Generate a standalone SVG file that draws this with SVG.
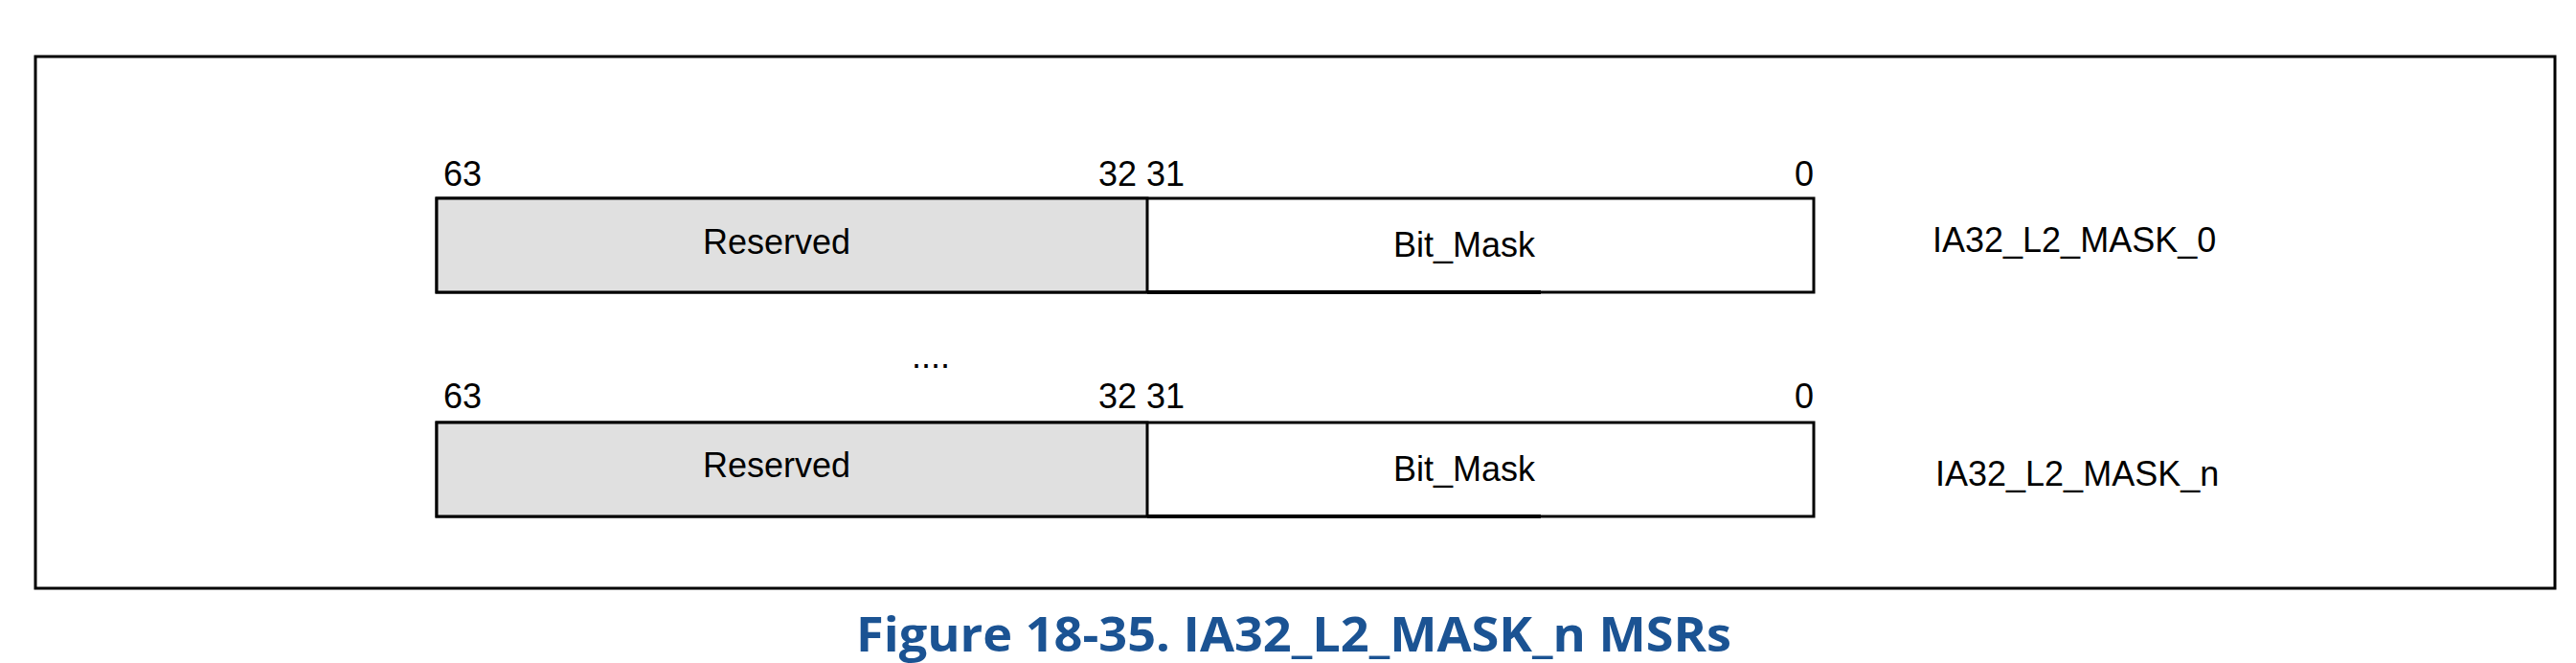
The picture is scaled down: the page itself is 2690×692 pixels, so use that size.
<svg xmlns="http://www.w3.org/2000/svg" width="2690" height="692" viewBox="0 0 2690 692">
<style>
text{font-family:"Liberation Sans",Arial,sans-serif;font-size:36px;fill:#000}
.res{fill:#e0e0e0;stroke:#000;stroke-width:3}
.box{fill:#fff;stroke:#000;stroke-width:3}
.cap{font-family:"Open Sans","Liberation Sans",sans-serif;font-weight:bold;font-size:50px;fill:#1b5393}
</style>
<rect x="37" y="59" width="2631" height="555" fill="#fff" stroke="#000" stroke-width="3"/>
<g id="reg0">
<rect class="box" x="456" y="207" width="1438" height="98"/>
<rect class="res" x="456" y="207" width="742" height="98"/>
<line x1="1198" y1="305" x2="1609" y2="305" stroke="#000" stroke-width="4"/>
<text x="463" y="194">63</text>
<text x="1237" y="194" text-anchor="end">32 31</text>
<text x="1894" y="194" text-anchor="end">0</text>
<text x="811" y="265" text-anchor="middle">Reserved</text>
<text x="1529" y="268" text-anchor="middle">Bit_Mask</text>
<text x="2018" y="263">IA32_L2_MASK_0</text>
</g>
<text x="972" y="384" text-anchor="middle">....</text>
<g id="regn">
<rect class="box" x="456" y="441" width="1438" height="98"/>
<rect class="res" x="456" y="441" width="742" height="98"/>
<line x1="1198" y1="539" x2="1609" y2="539" stroke="#000" stroke-width="4"/>
<text x="463" y="426">63</text>
<text x="1237" y="426" text-anchor="end">32 31</text>
<text x="1894" y="426" text-anchor="end">0</text>
<text x="811" y="498" text-anchor="middle">Reserved</text>
<text x="1529" y="502" text-anchor="middle">Bit_Mask</text>
<text x="2021" y="507">IA32_L2_MASK_n</text>
</g>
<text class="cap" x="894" y="680" textLength="914" lengthAdjust="spacingAndGlyphs">Figure 18-35.  IA32_L2_MASK_n MSRs</text>
</svg>
